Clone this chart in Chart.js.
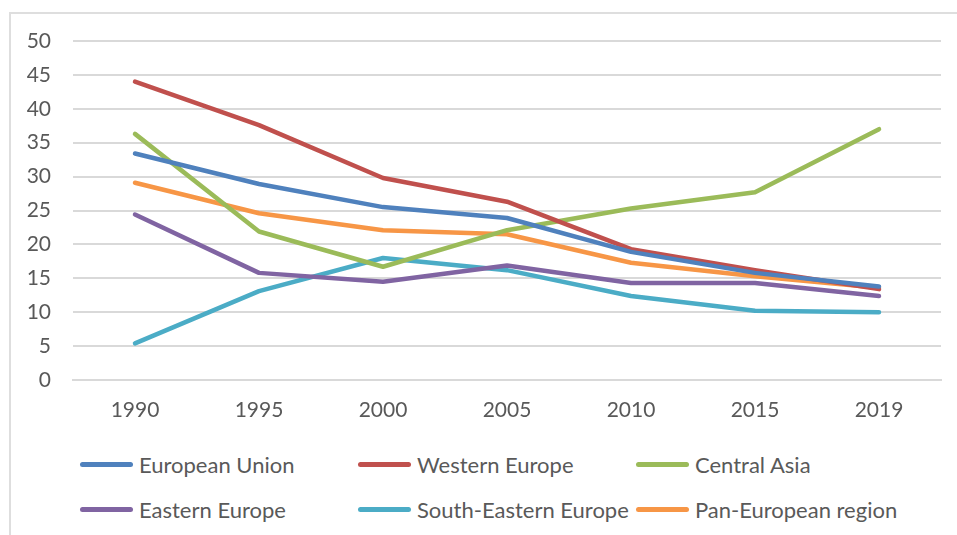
<!DOCTYPE html>
<html>
<head>
<meta charset="utf-8">
<script src="https://cdn.jsdelivr.net/npm/chart.js@4"></script>
<style>
    html, body { margin: 0; padding: 0; background: #fff; overflow: hidden; }
    #frame {
        position: absolute; left: 9px; top: 12px;
        width: 1000px; height: 600px;
        border: 2px solid #dedede; box-sizing: border-box;
    }
    #wrap { position: absolute; left: 0; top: 0; width: 957px; height: 440px; }
    #legend {
        position: absolute; left: 80px; top: 442px;
        display: grid; grid-template-columns: 278px 278px 278px;
        grid-auto-rows: 45px;
        font-family: Lato, sans-serif; font-size: 22px; color: #595959;
    }
    .item { display: flex; align-items: center; white-space: nowrap; }
    .swatch { width: 53px; height: 5px; border-radius: 3px; margin-right: 6px; }
</style>
</head>
<body>
<div id="frame"></div>
<div id="wrap"><canvas id="lineChart"></canvas></div>
<div id="legend"></div>
<script>
// Chart data
const years = ['1990', '1995', '2000', '2005', '2010', '2015', '2019'];
const europeanUnion = [33.4, 28.9, 25.5, 23.9, 18.9, 15.8, 13.8];
const westernEurope = [44.0, 37.6, 29.8, 26.3, 19.3, 16.2, 13.4];
const centralAsia = [36.3, 21.9, 16.7, 22.1, 25.3, 27.7, 37.0];
const easternEurope = [24.4, 15.8, 14.5, 16.9, 14.3, 14.3, 12.4];
const southEasternEurope = [5.4, 13.1, 18.0, 16.2, 12.4, 10.2, 10.0];
const panEuropean = [29.1, 24.6, 22.1, 21.5, 17.3, 15.3, 13.6];

const seriesNames = ['European Union', 'Western Europe', 'Central Asia',
    'Eastern Europe', 'South-Eastern Europe', 'Pan-European region'];
const seriesColors = ['#4f81bd', '#c0504d', '#9bbb59', '#8064a2', '#4bacc6', '#f79646'];
const seriesValues = [europeanUnion, westernEurope, centralAsia,
    easternEurope, southEasternEurope, panEuropean];

const textColor = '#595959';
const gridColor = '#d9d9d9';

document.addEventListener('DOMContentLoaded', () => {
    const chart = initLineChart();
    buildLegend(chart);
});

function initLineChart() {
    const ctx = document.getElementById('lineChart');

    const datasets = seriesNames.map((name, i) => ({
        label: name,
        data: seriesValues[i],
        borderColor: seriesColors[i],
        backgroundColor: seriesColors[i],
        borderWidth: 4.5,
        borderCapStyle: 'round',
        borderJoinStyle: 'round',
        pointRadius: 0,
        tension: 0,
        fill: false
    }));

    return new Chart(ctx, {
        type: 'line',
        data: { labels: years, datasets: datasets },
        options: {
            responsive: true,
            maintainAspectRatio: false,
            animation: false,
            layout: {
                padding: { top: 41, right: 16, left: 0, bottom: 0 }
            },
            plugins: {
                legend: { display: false },
                tooltip: { enabled: false }
            },
            scales: {
                x: {
                    offset: true,
                    grid: { display: false, drawTicks: false },
                    border: { display: true, color: gridColor, width: 2 },
                    ticks: {
                        color: textColor,
                        padding: 18,
                        font: { family: 'Lato', size: 21 }
                    },
                    afterFit: (scale) => { scale.height = 60; }
                },
                y: {
                    min: 0,
                    max: 50,
                    grid: { color: gridColor, lineWidth: 2, drawTicks: false },
                    border: { display: false },
                    ticks: {
                        stepSize: 5,
                        color: textColor,
                        padding: 22,
                        font: { family: 'Lato', size: 21 }
                    },
                    afterFit: (scale) => { scale.width = 73; }
                }
            }
        }
    });
}

// Legend laid out in fixed columns like the original
function buildLegend(chart) {
    const box = document.getElementById('legend');
    chart.data.datasets.forEach((ds) => {
        const item = document.createElement('div');
        item.className = 'item';
        const swatch = document.createElement('span');
        swatch.className = 'swatch';
        swatch.style.background = ds.borderColor;
        const label = document.createElement('span');
        label.textContent = ds.label;
        item.appendChild(swatch);
        item.appendChild(label);
        box.appendChild(item);
    });
}
</script>
</body>
</html>
